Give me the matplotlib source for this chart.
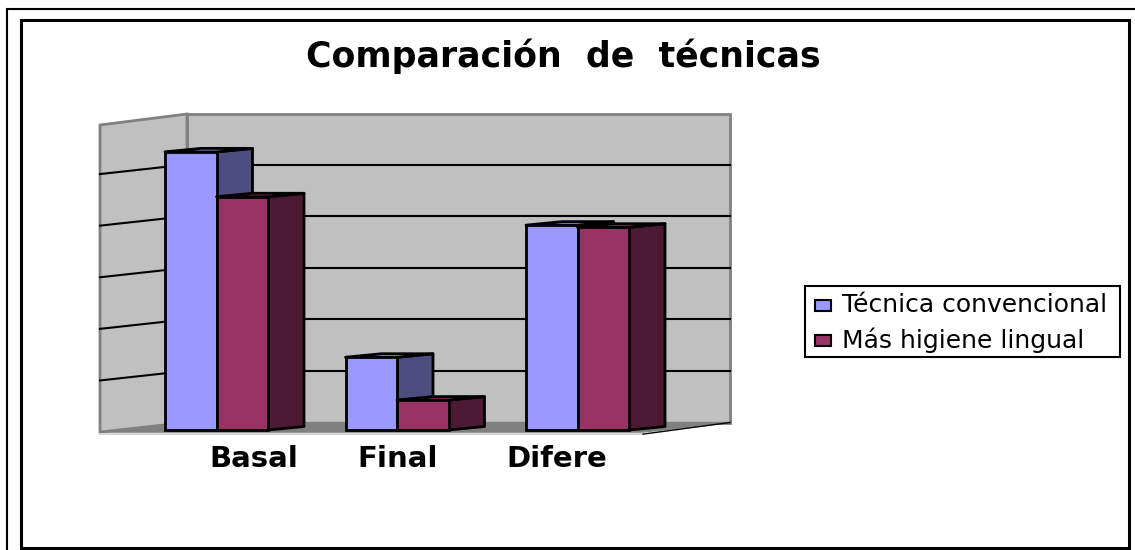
import matplotlib
matplotlib.use('Agg')
import matplotlib.pyplot as plt
from matplotlib.patches import Polygon, Rectangle

categories = ['Basal', 'Final', 'Difere']
series_names = ['Técnica convencional', 'Más higiene lingual']
tecnica = [5.39, 1.41, 3.97]
higiene = [4.52, 0.58, 3.93]
grid_values = [1, 2, 3, 4, 5]

W, H = 1135, 550
BLUE, BLUE_SIDE = '#9999ff', '#4d4d80'
RED, RED_SIDE = '#993366', '#4d1a33'
WALL = '#c0c0c0'
EDGE = '#808080'

# one value unit = 51.6 px, one category = 180.5 px
UX, UY = 180.5, 51.6
X0, Y0 = 216.5, 430      # pixel of category 0, value 0
BAR = 51.5 / UX
DX, DY = 36 / UX, 3.5 / UY
WX, WY = 87 / UX, 7.5 / UY  # wall offset

plt.rcParams['font.family'] = ['DejaVu Sans']
fig = plt.figure(figsize=(W / 100, H / 100), dpi=100)
ax = fig.add_axes([0, 0, 1, 1])
ax.set_xlim(-X0 / UX, (W - X0) / UX)
ax.set_ylim((Y0 - H) / UY, Y0 / UY)
ax.axis('off')


def px(x):
    return (x - X0) / UX


def py(y):
    return (Y0 - y) / UY


# frames, the outer one runs off the picture
ax.add_patch(Rectangle((px(7), py(570)), 1200 / UX, 561 / UY, fc='none', ec='black', lw=1.5))
ax.add_patch(Rectangle((px(21), py(548)), 1108 / UX, 528 / UY, fc='none', ec='black', lw=2.2))

# walls and floor
left, right = px(100), px(730)
back = left + WX
ax.add_patch(Polygon([(back, WY), (right, WY), (right, py(114)), (back, py(114))], fc=WALL, ec=EDGE, lw=2, zorder=0.5))
ax.add_patch(Polygon([(left, -0.04), (back, WY), (back, py(114)), (left, py(125))], fc=WALL, ec=EDGE, lw=2, zorder=0.5))
ax.add_patch(Polygon([(left, -0.04), (back, WY), (right, WY), (right - WX, -0.04)], fc=EDGE, ec=EDGE, lw=1, zorder=0.6))
ax.plot([left, right - WX], [-0.08, -0.08], color='#d0d0d0', lw=1.2, zorder=0.9)
ax.plot([right - WX, right], [-0.08, WY], color='black', lw=1, zorder=0.9)

for v in grid_values:
    ax.plot([back, right], [v + WY, v + WY], color='black', lw=1.5, zorder=0.9)
    ax.plot([left, back], [v - 0.04, v + WY], color='black', lw=1.5, zorder=0.9)


def side_faces(x, v, face, side):
    ax.add_patch(Polygon([(x + BAR, 0), (x + BAR + DX, DY), (x + BAR + DX, v + DY), (x + BAR, v)],
                         fc=side, ec='black', lw=2, joinstyle='round', zorder=1))
    ax.add_patch(Polygon([(x, v), (x + DX, v + DY), (x + BAR + DX, v + DY), (x + BAR, v)],
                         fc=face, ec='black', lw=2, joinstyle='round', zorder=1))


for i in range(len(categories)):
    side_faces(i - BAR, tecnica[i], BLUE, BLUE_SIDE)
    ax.bar(i - BAR, tecnica[i], BAR, align='edge', color=BLUE, edgecolor='black', linewidth=2, zorder=1)
    side_faces(i, higiene[i], RED, RED_SIDE)
    ax.bar(i, higiene[i], BAR, align='edge', color=RED, edgecolor='black', linewidth=2, zorder=1)

# texts
for name, x in zip(categories, [253.5, 397.5, 557]):
    ax.text(px(x), py(459), name, ha='center', va='center', fontsize=21, fontweight='bold')
ax.text(px(563), py(56), 'Comparación  de  técnicas', ha='center', va='center', fontsize=25, fontweight='bold')

# legend
ax.add_patch(Rectangle((px(805), py(357)), 315 / UX, 71 / UY, fc='white', ec='black', lw=1.5))
for name, c, y in zip(series_names, [BLUE, RED], [305, 340.5]):
    ax.add_patch(Rectangle((px(815), py(y + 5.5)), 16 / UX, 11 / UY, fc=c, ec='black', lw=1.5))
    ax.text(px(842), py(y), name, ha='left', va='center', fontsize=18)

fig.savefig('out.png', dpi=100)
